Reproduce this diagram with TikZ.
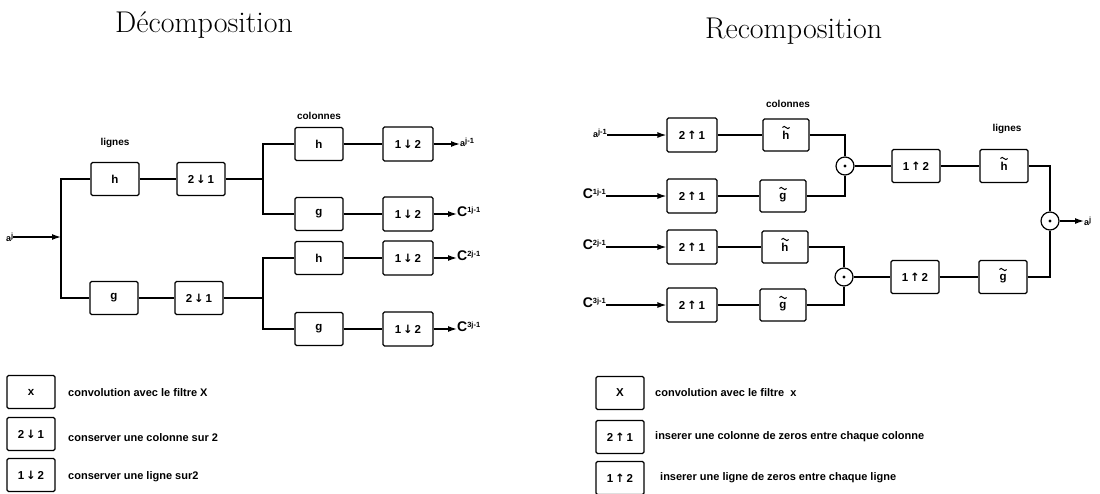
\documentclass[tikz,border=0pt]{standalone}
\usepackage{fontspec}
\setsansfont{Liberation Sans}
\newfontfamily\arrowfont{DejaVu Sans}
\usetikzlibrary{arrows.meta}
\newcommand\Clab[1]{{\fontsize{14}{14}\selectfont C}\raisebox{4pt}{\fontsize{7.5}{7.5}\selectfont #1j-1}}
\newcommand\alab[1]{{\fontsize{9}{9}\selectfont a}\raisebox{3pt}{\fontsize{7.5}{7.5}\selectfont #1}}
\newcommand\dn{\,{\arrowfont\bfseries ↓}\,}
\newcommand\up{\,{\arrowfont\bfseries ↑}\,}
\begin{document}
\begin{tikzpicture}[x=1pt,y=-1pt,
  blk/.style={draw, line width=1.2pt, rounded corners=1.5pt, minimum width=48pt, minimum height=33pt, inner sep=0pt,
    font=\sffamily\bfseries\fontsize{11.5}{11.5}\selectfont},
  wblk/.style={blk, minimum width=50pt, minimum height=34pt},
  fblk/.style={blk, minimum width=46pt, minimum height=32pt},
  tilded/.style={text depth=0pt, path picture={\draw[line width=1pt, rounded corners=0pt]
     ([shift={(-3.6pt,7.5pt)}]path picture bounding box.center)
     sin ++(1.8pt,1.1pt) cos ++(1.8pt,-1.1pt) sin ++(1.8pt,-1.1pt) cos ++(1.8pt,1.1pt);}},
  wire/.style={line width=1.3pt},
  arr/.style={wire, -{Latex[length=9pt,width=6pt]}},
  io/.style={inner sep=0pt, font=\sffamily\bfseries},
  lbl/.style={inner sep=0pt, font=\sffamily\bfseries\fontsize{10}{10}\selectfont},
  leg/.style={inner sep=0pt, anchor=west, font=\sffamily\bfseries\fontsize{11}{11}\selectfont},
  sumc/.style={circle, draw, line width=1.2pt, minimum size=18pt, inner sep=0pt},
  title/.style={inner sep=0pt, anchor=base west, font=\fontsize{30}{30}\selectfont}
]
\useasboundingbox (0,0) rectangle (1100,493);

% titles
\node[title] (t1) at (115,32) {Décomposition};
\node[title] (t2) at (705,38) {Recomposition};

% ---------- Decomposition ----------
\node[lbl] (lg1) at (115,143) {lignes};
\node[lbl] (cl1) at (319,116) {colonnes};

\node[io, anchor=west] (aj) at (6,237) {\alab{j}};
\coordinate (sp1) at (61,237);
\node[blk] (h1) at (115,179) {h};
\node[blk] (g1) at (114,298) {g};
\node[blk] (d1) at (201,179) {2\dn1};
\node[blk] (d2) at (199,298) {2\dn1};
\draw[arr] (aj) -- (sp1);
\draw[wire] (h1.west) -| (sp1) |- (g1.west);
\draw[wire] (h1) -- (d1);
\draw[wire] (g1) -- (d2);

\coordinate (sp2) at (263,179);
\coordinate (sp3) at (263,298);
\node[blk] (h2) at (319,144) {h};
\node[blk] (g2) at (319,214) {g};
\node[blk] (h3) at (319,258) {h};
\node[blk] (g3) at (319,329) {g};
\node[wblk] (e1) at (408,144) {1\dn2};
\node[wblk] (e2) at (408,214) {1\dn2};
\node[wblk] (e3) at (408,258) {1\dn2};
\node[wblk] (e4) at (408,329) {1\dn2};
\draw[wire] (d1) -- (sp2);
\draw[wire] (d2) -- (sp3);
\draw[wire] (h2.west) -| (sp2) |- (g2.west);
\draw[wire] (h3.west) -| (sp3) |- (g3.west);
\draw[wire] (h2) -- (e1);
\draw[wire] (g2) -- (e2);
\draw[wire] (h3) -- (e3);
\draw[wire] (g3) -- (e4);

\node[io, anchor=west] (o1) at (460,142) {\alab{j-1}};
\node[io, anchor=west] (o2) at (457,212) {\Clab{1}};
\node[io, anchor=west] (o3) at (457,256) {\Clab{2}};
\node[io, anchor=west] (o4) at (457,327) {\Clab{3}};
\draw[arr] (e1.east) -- (e1.east -| o1.west);
\draw[arr] (e2.east) -- (e2.east -| o2.west);
\draw[arr] (e3.east) -- (e3.east -| o3.west);
\draw[arr] (e4.east) -- (e4.east -| o4.west);

% ---------- Recomposition ----------
\node[lbl] (cl2) at (788,104) {colonnes};
\node[lbl] (lg2) at (1007,129) {lignes};

\node[wblk] (u1) at (692,135) {2\up1};
\node[wblk] (u2) at (692,196) {2\up1};
\node[wblk] (u3) at (692,247) {2\up1};
\node[wblk] (u4) at (692,305) {2\up1};
\node[fblk, tilded] (f1) at (786,135) {h};
\node[fblk, tilded] (f2) at (783,196) {g};
\node[fblk, tilded] (f3) at (785,247) {h};
\node[fblk, tilded] (f4) at (783,305) {g};

\node[io, anchor=east] (i1) at (607,133) {\alab{j-1}};
\node[io, anchor=east] (i2) at (606,194) {\Clab{1}};
\node[io, anchor=east] (i3) at (606,245) {\Clab{2}};
\node[io, anchor=east] (i4) at (606,303) {\Clab{3}};
\draw[arr] (i1.east |- u1) -- (u1.west);
\draw[arr] (i2.east |- u2) -- (u2.west);
\draw[arr] (i3.east |- u3) -- (u3.west);
\draw[arr] (i4.east |- u4) -- (u4.west);
\draw[wire] (u1) -- (f1);
\draw[wire] (u2) -- (f2);
\draw[wire] (u3) -- (f3);
\draw[wire] (u4) -- (f4);

\node[sumc] (c1) at (845,166) {};
\node[sumc] (c2) at (844,277) {};
\fill (c1) circle (1.6pt);
\fill (c2) circle (1.6pt);
\draw[wire] (f1.east) -| (c1.north);
\draw[wire] (f2.east) -| (c1.south);
\draw[wire] (f3.east) -| (c2.north);
\draw[wire] (f4.east) -| (c2.south);

\node[blk] (v1) at (916,166) {1\up2};
\node[blk] (v2) at (915,277) {1\up2};
\node[blk, tilded] (hh) at (1004,166) {h};
\node[blk, tilded] (gg) at (1003,277) {g};
\draw[wire] (c1) -- (v1);
\draw[wire] (v1) -- (hh);
\draw[wire] (c2) -- (v2);
\draw[wire] (v2) -- (gg);

\node[sumc] (c3) at (1050,221) {};
\fill (c3) circle (1.6pt);
\draw[wire] (hh.east) -| (c3.north);
\draw[wire] (gg.east) -| (c3.south);
\node[io, anchor=west] (out) at (1084,221) {\alab{j}};
\draw[arr] (c3.east) -- (out.west);

% ---------- Legends ----------
\node[blk] (lx) at (31,392) {x};
\node[blk] (ld) at (31,434) {2\dn1};
\node[blk] (le) at (31,475) {1\dn2};
\node[leg] (tx) at (68,393) {convolution avec le filtre X};
\node[leg] (td) at (68,438) {conserver une colonne sur 2};
\node[leg] (te) at (68,477) {conserver une ligne sur2};

\node[blk] (rx) at (620,393) {X};
\node[blk] (ru) at (620,437) {2\up1};
\node[blk] (rv) at (620,478) {1\up2};
\node[leg] (ux) at (655,393) {convolution avec le filtre \ x};
\node[leg] (uu) at (655,437) {inserer une colonne de zeros entre chaque colonne};
\node[leg] (uv) at (660,478) {inserer une ligne de zeros entre chaque ligne};
\end{tikzpicture}
\end{document}
